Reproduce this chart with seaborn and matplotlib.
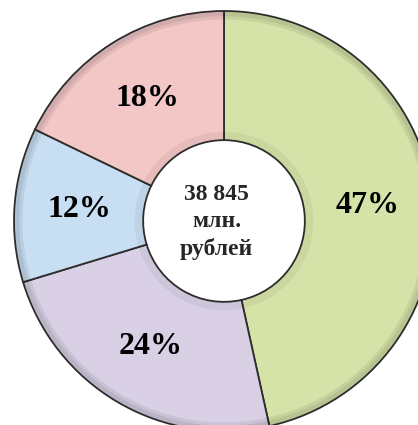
import matplotlib.pyplot as plt
import seaborn as sns

# Structure of spending, share of total (38 845 mln roubles)
shares = [47, 24, 12, 18]
share_labels = ["47%", "24%", "12%", "18%"]
colors = ["#d5e3a8", "#d9d0e6", "#c8def2", "#f3c7c6"]
center_text = "38 845\nмлн.\nрублей"

sns.set_theme(style="white")
plt.rcParams['font.family'] = ['Liberation Serif', 'DejaVu Serif']

fig = plt.figure(figsize=(4.18, 4.25), dpi=100)
ax = fig.add_axes([14 / 418, -6 / 425, 420 / 418, 420 / 425])

wedges, texts = ax.pie(
    shares,
    labels=share_labels,
    colors=colors,
    startangle=90,
    counterclock=False,
    radius=1,
    labeldistance=0.69,
    wedgeprops=dict(width=0.615, edgecolor="#2e2e2e", linewidth=1.3),
    textprops=dict(fontsize=23, fontweight="bold", color="black"),
)
for t in texts:
    t.set_ha("center")
    t.set_va("center")

# soft shading along the rims for the bevel look
for r, w, a in [(1.0, 0.04, 0.07), (0.995, 0.02, 0.07), (0.425, 0.04, 0.05)]:
    ax.pie([1], radius=r, colors=["black"], startangle=90,
           wedgeprops=dict(width=w, alpha=a, linewidth=0))

ax.text(-0.035, -0.005, center_text, ha="center", va="center", fontsize=17,
        fontweight="bold", linespacing=1.35)

ax.set_xlim(-1, 1)
ax.set_ylim(-1, 1)
ax.set_aspect("equal")
ax.axis("off")

fig.savefig("out.png", dpi=100)
